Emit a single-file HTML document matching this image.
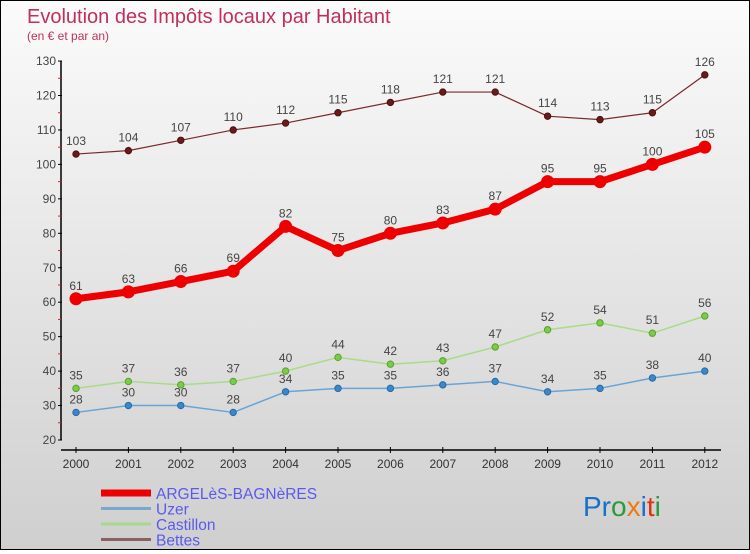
<!DOCTYPE html>
<html><head><meta charset="utf-8"><style>
body{margin:0;width:750px;height:550px;overflow:hidden;font-family:"Liberation Sans","DejaVu Sans",sans-serif}
#wrap{position:relative;width:748px;height:548px;border:1px solid #000;background:linear-gradient(#fbfbfb,#cfcfcf)}
</style></head><body>
<div id="wrap">
<svg id="chart" width="748" height="548" xmlns="http://www.w3.org/2000/svg">
<text x="26" y="22" font-size="20" fill="#c0305a">Evolution des Impôts locaux par Habitant</text>
<text x="26" y="39" font-size="12" fill="#c0305a">(en € et par an)</text>
<g id="axes"></g><g id="series"></g><g id="legend"></g>
<text x="582" y="515" font-size="28"><tspan fill="#1a6fc8">Pr</tspan><tspan fill="#2a9a3a">o</tspan><tspan fill="#f07a10">x</tspan><tspan fill="#1a6fc8">i</tspan><tspan fill="#e03010">t</tspan><tspan fill="#2a9a3a">i</tspan></text>
</svg>
</div>
<script>
const years=[2000,2001,2002,2003,2004,2005,2006,2007,2008,2009,2010,2011,2012];
const argeles=[61,63,66,69,82,75,80,83,87,95,95,100,105];
const uzer=[28,30,30,28,34,35,35,36,37,34,35,38,40];
const castillon=[35,37,36,37,40,44,42,43,47,52,54,51,56];
const bettes=[103,104,107,110,112,115,118,121,121,114,113,115,126];
const yTicks=[20,30,40,50,60,70,80,90,100,110,120,130];
const NS="http://www.w3.org/2000/svg";
const x=i=>75+i*52.4;
const y=v=>439-(v-20)*3.445;
function mk(tag,attrs,parent,text){const e=document.createElementNS(NS,tag);for(const k in attrs)e.setAttribute(k,attrs[k]);if(text!==undefined)e.textContent=text;parent.appendChild(e);return e;}
const ax=document.getElementById('axes');
let e=mk('line',{x1:60,y1:y(130),x2:60,y2:y(20),stroke:'#000','stroke-width':1.5},ax);


e=mk('line',{x1:60,y1:449,x2:720,y2:449,stroke:'#000','stroke-width':1.5},ax);


yTicks.forEach(t=>{
 mk('line',{x1:57,y1:y(t),x2:61,y2:y(t),stroke:'#000'},ax);
 e=mk('text',{x:55,y:y(t)+4,'text-anchor':'end','font-size':12,fill:'#444'},ax,String(t));
 
 
 if(t<130) mk('line',{x1:57,y1:y(t+5),x2:60,y2:y(t+5),stroke:'#e02020'},ax);
});
years.forEach((yr,i)=>{
 mk('line',{x1:x(i),y1:446,x2:x(i),y2:452,stroke:'#000'},ax);
 e=mk('text',{x:x(i),y:467,'text-anchor':'middle','font-size':12,fill:'#333'},ax,String(yr));
 
 
});
const sg=document.getElementById('series');
function series(name,data,color,w,r,dot,stroke){
 const g=mk('g',{},sg);
 
 
 mk('polyline',{points:data.map((v,i)=>x(i)+','+y(v)).join(' '),fill:'none',stroke:color,'stroke-width':w,'stroke-linejoin':'round'},g);
 data.forEach((v,i)=>{
  const c=mk('circle',{cx:x(i),cy:y(v),r:r,fill:dot,stroke:stroke,'stroke-width':1},g);
  
  
  const t=mk('text',{x:x(i),y:y(v)-9,'text-anchor':'middle','font-size':12,fill:'#444'},g,String(v));
  
  
 });
}
series('bettes',bettes,'#7a2a2a',1.2,3.2,'#6a1a1a','#4a1010');
series('castillon',castillon,'#a8dc88',1.5,3.2,'#7ccc44','#5aa030');
series('uzer',uzer,'#6aa4d4',1.5,3.2,'#3a88cc','#2a6aa0');
series('argeles',argeles,'#ee0000',7,6,'#ee0000','#ee0000');
const lg=document.getElementById('legend');
const leg=[['ARGELèS-BAGNèRES','#ee0000',7],['Uzer','#7aa8cc',3],['Castillon','#a8d890',3],['Bettes','#8a6060',3]];
leg.forEach((l,i)=>{
 const g=mk('g',{},lg);
 
 
 const ly=492+i*15.5;
 mk('line',{x1:100,y1:ly,x2:150,y2:ly,stroke:l[1],'stroke-width':l[2]},g);
 mk('text',{x:155,y:ly+6,'font-size':15.5,fill:'#5a5aee'},g,l[0]);
});
</script>
</body></html>
